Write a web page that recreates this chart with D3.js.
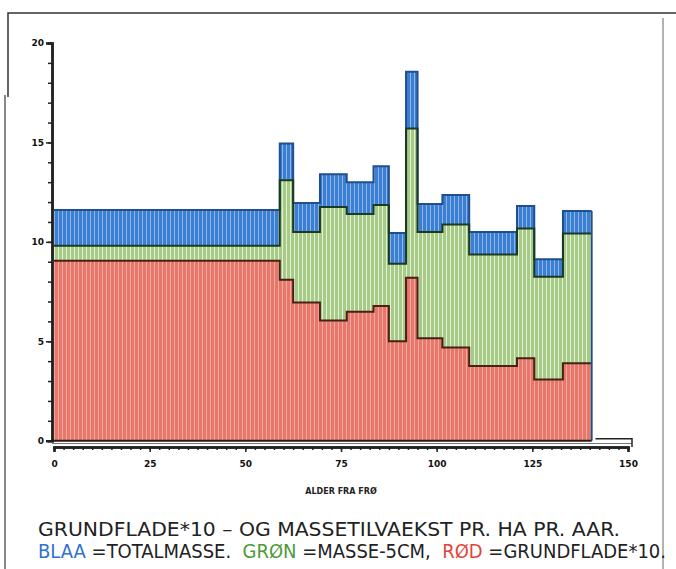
<!DOCTYPE html>
<html>
<head>
<meta charset="utf-8">
<script src="https://cdn.jsdelivr.net/npm/d3@7/dist/d3.min.js"></script>
<style>
  body { margin: 0; background: #fff; }
  svg { display: block; }
</style>
</head>
<body>
<script>
// Age classes (years from seed): left edge of each class, plus the final right edge
const ageEdges = [0, 59, 62.5, 69.5, 76.5, 83.5, 87.5, 92, 95, 101.5, 108.5, 121, 125.5, 133, 140.5];
// BLAA: total volume increment per ha per year
const totalMass = [11.6, 14.95, 11.95, 13.4, 13.0, 13.8, 10.45, 18.55, 11.9, 12.35, 10.5, 11.8, 9.13, 11.55];
// GRØN: volume increment above 5 cm
const massOver5cm = [9.8, 13.1, 10.5, 11.75, 11.4, 11.85, 8.9, 15.7, 10.5, 10.87, 9.37, 10.67, 8.24, 10.42];
// RØD: basal area increment * 10
const basalArea10 = [9.05, 8.1, 6.95, 6.05, 6.48, 6.77, 5.0, 8.2, 5.15, 4.69, 3.76, 4.15, 3.08, 3.9];

const xTickValues = [0, 25, 50, 75, 100, 125, 150];
const yTickValues = [0, 5, 10, 15, 20];
const xTitle = "ALDER FRA FRØ";
const titleLine1 = "GRUNDFLADE*10 – OG MASSETILVAEKST PR. HA PR. AAR.";

const W = 676, H = 569;
const svg = d3.select("body").append("svg").attr("width", W).attr("height", H);

const x = d3.scaleLinear().domain([0, 150]).range([54, 628]);
const y = d3.scaleLinear().domain([0, 20]).range([440.7, 43]);

// striped fills
const defs = svg.append("defs");
function stripes(id, base, light) {
  const p = defs.append("pattern").attr("id", id).attr("patternUnits", "userSpaceOnUse")
    .attr("width", 4).attr("height", 10);
  p.append("rect").attr("width", 4).attr("height", 10).attr("fill", base);
  p.append("rect").attr("x", 2).attr("width", 1).attr("height", 10).attr("fill", light);
}
stripes("blueFill", "#3b7fd3", "#8db5e8");
stripes("greenFill", "#a6ca87", "#e4f0d0");
stripes("redFill", "#e6776a", "#f3aa9e");

// outer frame
const frame = svg.append("g").attr("fill", "none");
frame.append("path").attr("d", "M8,97 L8,13 L676,13").attr("stroke", "#333").attr("stroke-width", 1.5);
frame.append("line").attr("x1", 5).attr("x2", 5).attr("y1", 95).attr("y2", 569).attr("stroke", "#888").attr("stroke-width", 2);
frame.append("line").attr("x1", 663).attr("x2", 663).attr("y1", 18).attr("y2", 569).attr("stroke", "#999").attr("stroke-width", 1.5);

function stepPoints(vals) {
  const pts = vals.map((v, i) => [ageEdges[i], v]);
  pts.push([ageEdges[vals.length], vals[vals.length - 1]]);
  return pts;
}
const area = d3.area().curve(d3.curveStepAfter)
  .x(d => x(d[0])).y0(y(0)).y1(d => y(d[1]));
const line = d3.line().curve(d3.curveStepAfter)
  .x(d => x(d[0])).y(d => y(d[1]));

const layers = [
  { vals: totalMass, fill: "url(#blueFill)", edge: "#1f4f8f" },
  { vals: massOver5cm, fill: "url(#greenFill)", edge: "#1c3a22" },
  { vals: basalArea10, fill: "url(#redFill)", edge: "#4a2016" }
];

const plot = svg.append("g");
layers.forEach(l => {
  plot.append("path").datum(stepPoints(l.vals)).attr("d", area).attr("fill", l.fill);
});
layers.forEach(l => {
  plot.append("path").datum(stepPoints(l.vals)).attr("d", line)
    .attr("fill", "none").attr("stroke", l.edge).attr("stroke-width", 2);
});
// right closing edge of the stack
const lastAge = ageEdges[ageEdges.length - 1];
plot.append("line").attr("x1", x(lastAge)).attr("x2", x(lastAge))
  .attr("y1", y(totalMass[totalMass.length - 1])).attr("y2", y(0))
  .attr("stroke", "#24507f").attr("stroke-width", 2);

// y axis: minor ticks every unit, labelled majors
const yMinor = d3.range(0, 21, 1);
const yAxisMinor = svg.append("g").attr("transform", "translate(52,0)")
  .call(d3.axisLeft(y).tickValues(yMinor).tickSize(4).tickFormat(""));
const yAxis = svg.append("g").attr("transform", "translate(52,0)")
  .call(d3.axisLeft(y).tickValues(yTickValues).tickSize(6).tickPadding(2).tickFormat(d3.format("d")));
[yAxisMinor, yAxis].forEach(g => {
  g.select(".domain").attr("stroke", "#222").attr("stroke-width", 2.5);
  g.selectAll(".tick line").attr("stroke", "#222").attr("stroke-width", 1.5);
});
yAxis.selectAll(".tick text").attr("font-family", "DejaVu Sans, sans-serif")
  .attr("font-weight", "bold").attr("font-size", 9).attr("fill", "#111");

// x axis: double base band with ticks below
const baseY = 447;
svg.append("line").attr("x1", 52).attr("x2", x(lastAge)).attr("y1", y(0)).attr("y2", y(0))
  .attr("stroke", "#2a1a12").attr("stroke-width", 2);
svg.append("line").attr("x1", 52).attr("x2", x(150) + 4).attr("y1", 443.5).attr("y2", 443.5)
  .attr("stroke", "#777").attr("stroke-width", 1);
svg.append("path").attr("d", `M${x(141.5)},${y(0) - 2} L${x(150) + 4},${y(0) - 2} L${x(150) + 4},${baseY}`)
  .attr("fill", "none").attr("stroke", "#222").attr("stroke-width", 1.5);
const xMinor = d3.range(0, 151, 2.5);
const xAxisMinor = svg.append("g").attr("transform", `translate(0,${baseY})`)
  .call(d3.axisBottom(x).tickValues(xMinor).tickSize(3).tickFormat(""));
const xAxis = svg.append("g").attr("transform", `translate(0,${baseY})`)
  .call(d3.axisBottom(x).tickValues(xTickValues).tickSize(5).tickPadding(9).tickFormat(d3.format("d")));
[xAxisMinor, xAxis].forEach(g => {
  g.select(".domain").attr("stroke", "#222").attr("stroke-width", 2.5);
  g.selectAll(".tick line").attr("stroke", "#222").attr("stroke-width", 1.5);
});
xAxis.selectAll(".tick text").attr("font-family", "DejaVu Sans, sans-serif")
  .attr("font-weight", "bold").attr("font-size", 9).attr("fill", "#111");

svg.append("text").attr("x", 341).attr("y", 494).attr("text-anchor", "middle")
  .attr("font-family", "DejaVu Sans, sans-serif").attr("font-weight", "bold")
  .attr("font-size", 8).attr("fill", "#222").text(xTitle);

// caption
const capFont = "Liberation Sans Narrow, DejaVu Sans Condensed, Arial Narrow, sans-serif";
svg.append("text").attr("x", 38).attr("y", 536)
  .attr("font-family", capFont).attr("font-size", 20).attr("fill", "#222")
  .attr("textLength", 582).attr("lengthAdjust", "spacingAndGlyphs")
  .text(titleLine1);

const legendParts = [
  { t: "BLAA", c: "#2f70d0" },
  { t: " =TOTALMASSE.  ", c: "#222" },
  { t: "GRØN", c: "#4c9a3a" },
  { t: " =MASSE-5CM,  ", c: "#222" },
  { t: "RØD", c: "#e2443a" },
  { t: " =GRUNDFLADE*10.", c: "#222" }
];
const legend = svg.append("text").attr("x", 38).attr("y", 558)
  .attr("font-family", capFont).attr("font-size", 20)
  .attr("textLength", 628).attr("lengthAdjust", "spacingAndGlyphs")
  .attr("xml:space", "preserve").style("white-space", "pre");
legendParts.forEach(p => legend.append("tspan").attr("fill", p.c).text(p.t));
</script>
</body>
</html>
